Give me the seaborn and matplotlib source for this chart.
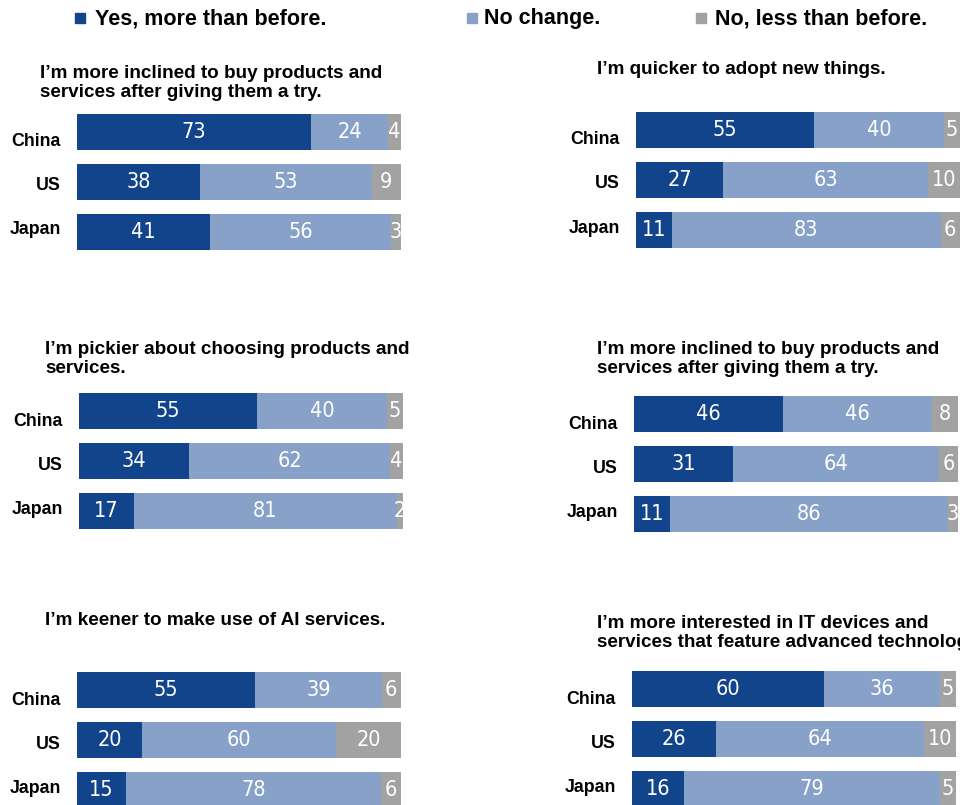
import numpy as np
import pandas as pd
import matplotlib
matplotlib.use("Agg")
import matplotlib.pyplot as plt
import seaborn as sns
from matplotlib.patches import Rectangle

countries = ["China", "US", "Japan"]

titles = [
    "I\u2019m more inclined to buy products and\nservices after giving them a try.",
    "I\u2019m quicker to adopt new things.",
    "I\u2019m pickier about choosing products and\nservices.",
    "I\u2019m more inclined to buy products and\nservices after giving them a try.",
    "I\u2019m keener to make use of AI services.",
    "I\u2019m more interested in IT devices and\nservices that feature advanced technologies.",
]

yes_more = [[73, 38, 41], [55, 27, 11], [55, 34, 17], [46, 31, 11], [55, 20, 15], [60, 26, 16]]
no_change = [[24, 53, 56], [40, 63, 83], [40, 62, 81], [46, 64, 86], [39, 60, 78], [36, 64, 79]]
less = [[4, 9, 3], [5, 10, 6], [5, 4, 2], [8, 6, 3], [6, 20, 6], [5, 10, 5]]

legend_labels = ["Yes, more than before.", "No change.", "No, less than before."]
colors = ["#12448B", "#87A1C8", "#A2A2A2"]

# layout in pixels: bar left edge, centre of first bar, title x, title centre y
panels = [
    (77, 132, 40, 83),
    (636, 130, 597, 69),
    (79, 411, 45, 359),
    (634, 414, 597, 359),
    (77, 690, 45, 620),
    (632, 689, 597, 633),
]

W, H = 960, 805
BAR_W, STEP = 324, 50

sns.set_style("white")
plt.rcParams["font.family"] = ["Liberation Sans", "DejaVu Sans"]
plt.rcParams["text.color"] = "black"
plt.rcParams["ytick.color"] = "black"

fig = plt.figure(figsize=(W / 100, H / 100), dpi=100)

for i, (bx, cy, tx, ty) in enumerate(panels):
    top = cy - STEP / 2
    ax = fig.add_axes([bx / W, 1 - (top + 3 * STEP) / H, BAR_W / W, 3 * STEP / H])
    yes = np.array(yes_more[i], float)
    mid = np.array(no_change[i], float)
    low = np.array(less[i], float)
    total = yes + mid + low
    c1 = yes / total * 100
    c2 = (yes + mid) / total * 100
    c3 = total / total * 100
    df = pd.DataFrame({"country": countries, "c1": c1, "c2": c2, "c3": c3})
    for col, colr in zip(["c3", "c2", "c1"], colors[::-1]):
        sns.barplot(data=df, x=col, y="country", orient="h", color=colr,
                    width=0.72, ax=ax, saturation=1, linewidth=0)
    ax.set_xlim(0, 100)
    ax.set_ylim(2.5, -0.5)
    ax.set_xticks([])
    ax.set_xlabel("")
    ax.set_ylabel("")
    for s in ax.spines.values():
        s.set_visible(False)
    # labels sit a little lower than the bar centres in the original
    ax.set_yticks([0.16, 1.04, 1.92], countries)
    ax.tick_params(axis="y", left=False, pad=8)
    for lab in ax.get_yticklabels():
        lab.set_fontweight("bold")
        lab.set_fontsize(12.8)
    starts = [np.zeros(3), c1, c2]
    ends = [c1, c2, c3]
    vals = [yes, mid, low]
    for s0, e0, v in zip(starts, ends, vals):
        for r in range(3):
            t = ax.text((s0[r] + e0[r]) / 2, r, f"{int(v[r])}", ha="center", va="center",
                        color="white", fontsize=15.5, family="DejaVu Sans",
                        fontstretch="condensed", zorder=5)
            t.set_clip_on(True)
    fig.text(tx / W, 1 - ty / H, titles[i], ha="left", va="center", fontsize=13.6,
             fontweight="bold", linespacing=1.2)

# legend
for sx, lx, lab, colr in zip([75, 467, 696], [95, 484, 715], legend_labels, colors):
    fig.patches.append(Rectangle((sx / W, 1 - 23 / H), 10 / W, 10 / H,
                                 transform=fig.transFigure, color=colr, figure=fig))
    fig.text(lx / W, 1 - 24 / H, lab, ha="left", va="baseline", fontsize=15.5,
             fontweight="bold")

fig.savefig("out.png", dpi=100)
